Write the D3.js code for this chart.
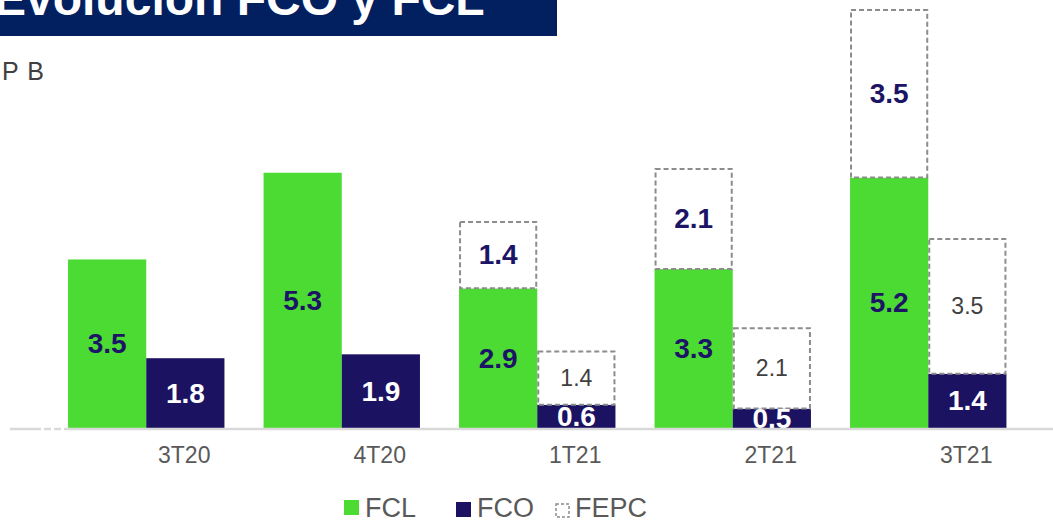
<!DOCTYPE html>
<html>
<head>
<meta charset="utf-8">
<script src="https://cdn.jsdelivr.net/npm/d3@7"></script>
<style>
  html, body { margin: 0; padding: 0; background: #ffffff; }
  svg { display: block; font-family: "Liberation Sans", Arial, sans-serif; }
</style>
</head>
<body>
<svg id="chart" width="1053" height="523"></svg>
<script>
// Quarterly free cash flow (FCL), operating cash flow (FCO) and FEPC effect
const categories = ["3T20", "4T20", "1T21", "2T21", "3T21"];
const fcl  = [3.5, 5.3, 2.9, 3.3, 5.2];
const fco  = [1.8, 1.9, 0.6, 0.5, 1.4];
const fepc = [null, null, 1.4, 2.1, 3.5];
const legendLabels = ["FCL", "FCO", "FEPC"];

const GREEN = "#4cdb33";
const NAVY = "#1c1262";
const LABEL_NAVY = "#1c1464";
const DASH = "#8c8c8c";

const svg = d3.select("#chart");
const baseY = 428;

// Category bands, each split in two sub-bands (FCL | FCO)
const x = d3.scaleBand().domain(categories).range([48.5, 1026]).paddingInner(0.2).paddingOuter(0.1);
const sub = d3.scaleBand().domain(["fcl", "fco"]).range([0, x.bandwidth()]);

// FCL and FCO sit on separate value axes (primary / secondary), both hidden
const yL = d3.scaleLinear().domain([0, 8.7]).range([baseY, 9]);
const yO = d3.scaleLinear().domain([0, 4.9]).range([baseY, 238]);

const rows = categories.map((c, i) => ({ c, fcl: fcl[i], fco: fco[i], fepc: fepc[i] }));

// Title banner
svg.append("rect").attr("x", 0).attr("y", 0).attr("width", 557).attr("height", 36).attr("fill", "#021f5f");
svg.append("text").attr("x", -6).attr("y", 15)
  .attr("fill", "#ffffff").attr("font-weight", "bold").attr("font-size", 48)
  .text("Evolución FCO y FCL");

// Unit label
svg.append("text").attr("x", 2).attr("y", 80)
  .attr("fill", "#404040").attr("font-size", 25).attr("word-spacing", 2).text("P B");

const g = svg.append("g");

// FCL bars
g.selectAll(".fcl").data(rows).join("rect")
  .attr("x", d => x(d.c) + sub("fcl"))
  .attr("width", sub.bandwidth())
  .attr("y", d => yL(d.fcl))
  .attr("height", d => yL(0) - yL(d.fcl))
  .attr("fill", GREEN);

// FEPC boxes stacked on FCL
const withFepc = rows.filter(d => d.fepc != null);
g.selectAll(".fepcL").data(withFepc).join("rect")
  .attr("x", d => x(d.c) + sub("fcl") + 1)
  .attr("width", sub.bandwidth() - 2)
  .attr("y", d => yL(d.fcl + d.fepc) + 1)
  .attr("height", d => yL(d.fcl) - yL(d.fcl + d.fepc) - 1)
  .attr("fill", "#ffffff").attr("stroke", DASH).attr("stroke-width", 2)
  .attr("stroke-dasharray", "5,3");

// FCO bars
g.selectAll(".fco").data(rows).join("rect")
  .attr("x", d => x(d.c) + sub("fco"))
  .attr("width", sub.bandwidth())
  .attr("y", d => yO(d.fco))
  .attr("height", d => yO(0) - yO(d.fco))
  .attr("fill", NAVY);

// FEPC boxes stacked on FCO
g.selectAll(".fepcO").data(withFepc).join("rect")
  .attr("x", d => x(d.c) + sub("fco") + 1)
  .attr("width", sub.bandwidth() - 2)
  .attr("y", d => yO(d.fco + d.fepc) + 1)
  .attr("height", d => yO(d.fco) - yO(d.fco + d.fepc) - 1)
  .attr("fill", "#ffffff").attr("stroke", DASH).attr("stroke-width", 2)
  .attr("stroke-dasharray", "5,3");

const fmt = d3.format(".1f");

// Value labels
g.selectAll(".lblL").data(rows).join("text")
  .attr("x", d => x(d.c) + sub("fcl") + sub.bandwidth() / 2)
  .attr("y", d => (yL(0) + yL(d.fcl)) / 2)
  .attr("text-anchor", "middle").attr("dominant-baseline", "central")
  .attr("font-size", 28).attr("font-weight", "bold").attr("fill", LABEL_NAVY)
  .text(d => fmt(d.fcl));

g.selectAll(".lblFepcL").data(withFepc).join("text")
  .attr("x", d => x(d.c) + sub("fcl") + sub.bandwidth() / 2)
  .attr("y", d => (yL(d.fcl) + yL(d.fcl + d.fepc)) / 2)
  .attr("text-anchor", "middle").attr("dominant-baseline", "central")
  .attr("font-size", 28).attr("font-weight", "bold").attr("fill", LABEL_NAVY)
  .text(d => fmt(d.fepc));

g.selectAll(".lblO").data(rows).join("text")
  .attr("x", d => x(d.c) + sub("fco") + sub.bandwidth() / 2)
  .attr("y", d => (yO(0) + yO(d.fco)) / 2)
  .attr("text-anchor", "middle").attr("dominant-baseline", "central")
  .attr("font-size", 28).attr("font-weight", "bold").attr("fill", "#ffffff")
  .text(d => fmt(d.fco));

g.selectAll(".lblFepcO").data(withFepc).join("text")
  .attr("x", d => x(d.c) + sub("fco") + sub.bandwidth() / 2)
  .attr("y", d => (yO(d.fco) + yO(d.fco + d.fepc)) / 2)
  .attr("text-anchor", "middle").attr("dominant-baseline", "central")
  .attr("font-size", 23).attr("fill", "#404040")
  .text(d => fmt(d.fepc));

// Baseline
const axisLine = svg.append("g").attr("stroke", "#d9d9d9").attr("stroke-width", 2.5);
axisLine.append("line").attr("x1", 10).attr("x2", 34).attr("y1", baseY + 1).attr("y2", baseY + 1);
axisLine.append("line").attr("x1", 34).attr("x2", 68).attr("y1", baseY + 1).attr("y2", baseY + 1)
  .attr("stroke-dasharray", "7,3");
axisLine.append("line").attr("x1", 68).attr("x2", 1053).attr("y1", baseY + 1).attr("y2", baseY + 1);

// Category axis (labels placed right of each group's centre)
const xAxis = d3.axisBottom(x).tickSize(0).tickPadding(19);
const ax = svg.append("g").attr("transform", `translate(38,${baseY})`).call(xAxis);
ax.select(".domain").remove();
ax.selectAll("text").attr("font-size", 23).attr("fill", "#595959")
  .attr("font-family", "Liberation Sans, Arial, sans-serif");

// Legend
const legend = svg.append("g");
const items = [
  { label: legendLabels[0], x: 344, y: 500, type: "fill", color: GREEN },
  { label: legendLabels[1], x: 456, y: 502, type: "fill", color: NAVY },
  { label: legendLabels[2], x: 555, y: 503, type: "dash", color: DASH }
];
items.forEach(it => {
  if (it.type === "fill") {
    legend.append("rect").attr("x", it.x).attr("y", it.y).attr("width", 15).attr("height", 15).attr("fill", it.color);
  } else {
    legend.append("rect").attr("x", it.x + 1).attr("y", it.y + 1).attr("width", 13).attr("height", 13)
      .attr("fill", "#ffffff").attr("stroke", it.color).attr("stroke-width", 1.5).attr("stroke-dasharray", "3,2");
  }
  legend.append("text").attr("x", it.x + (it.type === "dash" ? 20 : 21)).attr("y", 517)
    .attr("font-size", 27).attr("fill", "#595959").text(it.label);
});
</script>
</body>
</html>
